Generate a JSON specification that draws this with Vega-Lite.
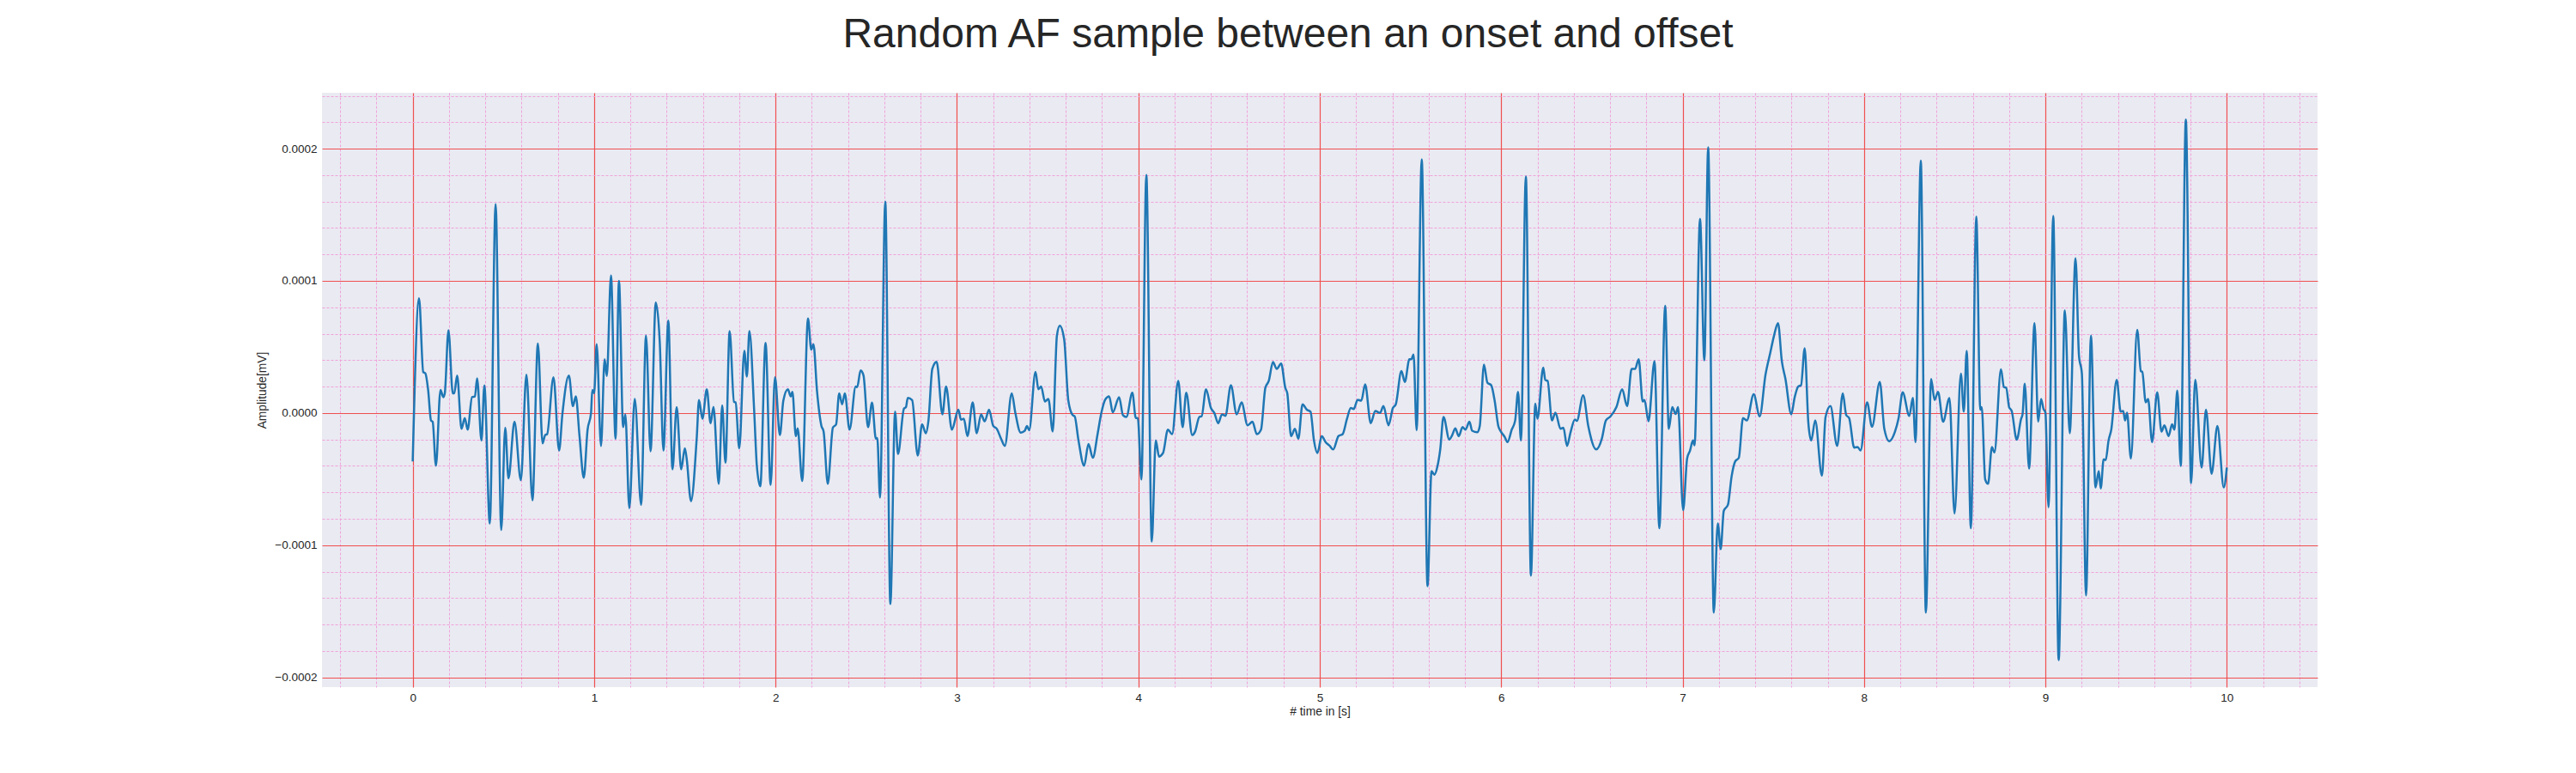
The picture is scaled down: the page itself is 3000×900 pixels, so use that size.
{
  "$schema": "https://vega.github.io/schema/vega-lite/v6.json",
  "autosize": {"type": "none"},
  "width": 2324,
  "height": 692,
  "padding": {"left": 375, "top": 108, "right": 301, "bottom": 100},
  "background": "white",
  "title": {
    "text": "Random AF sample between an onset and offset",
    "font": "Liberation Sans",
    "fontSize": 48,
    "fontWeight": "normal",
    "color": "#262626",
    "anchor": "middle",
    "baseline": "alphabetic",
    "dx": -37,
    "dy": 43,
    "offset": 45
  },
  "config": {
    "view": {"stroke": null, "fill": "#eaeaf2"},
    "axis": {
      "labelFont": "Liberation Sans",
      "titleFont": "Liberation Sans",
      "labelColor": "#262626",
      "titleColor": "#262626",
      "labelFontSize": 13.5,
      "titleFontSize": 13.8,
      "titleFontWeight": "normal",
      "domain": false,
      "ticks": false,
      "tickSize": 0,
      "gridOpacity": 1,
      "labelOverlap": false,
      "labelFlush": false
    }
  },
  "data": {
    "values": [
      {"t":0.000,"a":-3.66e-5},{"t":0.035,"a":8.69e-5},{"t":0.058,"a":3.1e-5},{"t":0.070,"a":3.0e-5},{"t":0.085,"a":1.75e-5},
      {"t":0.101,"a":-0.57e-5},{"t":0.110,"a":-0.66e-5},{"t":0.128,"a":-3.99e-5},{"t":0.153,"a":1.75e-5},{"t":0.169,"a":1.2e-5},
      {"t":0.177,"a":1.5e-5},{"t":0.197,"a":6.26e-5},{"t":0.221,"a":1.48e-5},{"t":0.229,"a":1.5e-5},{"t":0.245,"a":2.84e-5},
      {"t":0.269,"a":-1.2e-5},{"t":0.287,"a":-0.38e-5},{"t":0.303,"a":-1.26e-5},{"t":0.327,"a":1.2e-5},{"t":0.343,"a":1.25e-5},
      {"t":0.355,"a":2.62e-5},{"t":0.379,"a":-2.08e-5},{"t":0.395,"a":2.08e-5},{"t":0.425,"a":-8.36e-5},{"t":0.457,"a":15.8e-5},
      {"t":0.488,"a":-8.85e-5},{"t":0.510,"a":-1.12e-5},{"t":0.528,"a":-4.95e-5},{"t":0.561,"a":-0.66e-5},{"t":0.596,"a":-5.08e-5},
      {"t":0.627,"a":2.9e-5},{"t":0.660,"a":-6.6e-5},{"t":0.690,"a":5.25e-5},{"t":0.716,"a":-2.3e-5},{"t":0.730,"a":-1.67e-5},
      {"t":0.741,"a":-1.6e-5},{"t":0.776,"a":2.7e-5},{"t":0.807,"a":-2.84e-5},{"t":0.825,"a":-0.1e-5},{"t":0.861,"a":2.84e-5},
      {"t":0.883,"a":0.52e-5},{"t":0.899,"a":1.26e-5},{"t":0.919,"a":-1.67e-5},{"t":0.943,"a":-4.9e-5},{"t":0.964,"a":-1.26e-5},
      {"t":0.983,"a":0.0},{"t":0.990,"a":1.75e-5},{"t":1.000,"a":1.5e-5},{"t":1.014,"a":5.2e-5},{"t":1.038,"a":-2.5e-5},
      {"t":1.058,"a":4.07e-5},{"t":1.070,"a":2.8e-5},{"t":1.093,"a":10.4e-5},{"t":1.118,"a":-1.94e-5},{"t":1.137,"a":10.0e-5},
      {"t":1.160,"a":-1.07e-5},{"t":1.172,"a":-0.1e-5},{"t":1.194,"a":-7.2e-5},{"t":1.224,"a":1.07e-5},{"t":1.259,"a":-6.94e-5},
      {"t":1.286,"a":5.85e-5},{"t":1.311,"a":-2.9e-5},{"t":1.340,"a":8.36e-5},{"t":1.362,"a":5.3e-5},{"t":1.382,"a":-2.84e-5},
      {"t":1.409,"a":7.0e-5},{"t":1.432,"a":-4.26e-5},{"t":1.455,"a":0.44e-5},{"t":1.480,"a":-4.26e-5},{"t":1.500,"a":-2.68e-5},
      {"t":1.510,"a":-3.44e-5},{"t":1.534,"a":-6.67e-5},{"t":1.566,"a":-1.8e-5},{"t":1.578,"a":0.98e-5},{"t":1.597,"a":-0.44e-5},
      {"t":1.621,"a":1.8e-5},{"t":1.642,"a":-0.77e-5},{"t":1.658,"a":0.46e-5},{"t":1.687,"a":-5.36e-5},{"t":1.706,"a":0.57e-5},
      {"t":1.724,"a":-3.77e-5},{"t":1.747,"a":6.2e-5},{"t":1.771,"a":0.85e-5},{"t":1.780,"a":0.8e-5},{"t":1.800,"a":-2.68e-5},
      {"t":1.828,"a":4.7e-5},{"t":1.842,"a":2.76e-5},{"t":1.856,"a":6.2e-5},{"t":1.882,"a":0.25e-5},{"t":1.897,"a":-4.0e-5},
      {"t":1.916,"a":-5.55e-5},{"t":1.945,"a":5.3e-5},{"t":1.973,"a":-5.44e-5},{"t":1.997,"a":2.7e-5},{"t":2.024,"a":-1.67e-5},
      {"t":2.043,"a":0.93e-5},{"t":2.068,"a":1.8e-5},{"t":2.084,"a":1.26e-5},{"t":2.093,"a":1.6e-5},{"t":2.112,"a":-1.75e-5},
      {"t":2.122,"a":-1.17e-5},{"t":2.147,"a":-5.14e-5},{"t":2.179,"a":7.16e-5},{"t":2.197,"a":4.8e-5},{"t":2.209,"a":5.2e-5},
      {"t":2.229,"a":1.6e-5},{"t":2.253,"a":-0.98e-5},{"t":2.265,"a":-1.4e-5},{"t":2.288,"a":-5.36e-5},{"t":2.316,"a":-1.12e-5},
      {"t":2.334,"a":-0.85e-5},{"t":2.351,"a":1.48e-5},{"t":2.367,"a":0.66e-5},{"t":2.382,"a":1.48e-5},{"t":2.408,"a":-1.26e-5},
      {"t":2.442,"a":2.0e-5},{"t":2.450,"a":1.95e-5},{"t":2.469,"a":3.22e-5},{"t":2.485,"a":2.84e-5},{"t":2.510,"a":-1.07e-5},
      {"t":2.532,"a":0.79e-5},{"t":2.553,"a":-1.94e-5},{"t":2.561,"a":-1.9e-5},{"t":2.576,"a":-6.4e-5},{"t":2.605,"a":16.0e-5},
      {"t":2.633,"a":-14.45e-5},{"t":2.659,"a":0.1e-5},{"t":2.675,"a":-3.1e-5},{"t":2.708,"a":0.33e-5},{"t":2.719,"a":0.44e-5},
      {"t":2.729,"a":1.15e-5},{"t":2.753,"a":0.98e-5},{"t":2.784,"a":-3.22e-5},{"t":2.808,"a":-0.85e-5},{"t":2.828,"a":-1.53e-5},
      {"t":2.843,"a":-0.57e-5},{"t":2.864,"a":3.33e-5},{"t":2.888,"a":3.88e-5},{"t":2.920,"a":-0.1e-5},{"t":2.940,"a":2.0e-5},
      {"t":2.972,"a":-1.26e-5},{"t":3.008,"a":0.25e-5},{"t":3.022,"a":-0.5e-5},{"t":3.038,"a":-0.44e-5},{"t":3.058,"a":-1.75e-5},
      {"t":3.087,"a":0.8e-5},{"t":3.109,"a":-1.53e-5},{"t":3.133,"a":-0.1e-5},{"t":3.153,"a":-0.63e-5},{"t":3.177,"a":0.25e-5},
      {"t":3.200,"a":-0.98e-5},{"t":3.220,"a":-1.2e-5},{"t":3.243,"a":-1.94e-5},{"t":3.264,"a":-2.49e-5},{"t":3.302,"a":1.48e-5},
      {"t":3.322,"a":0.0},{"t":3.351,"a":-1.48e-5},{"t":3.374,"a":-1.34e-5},{"t":3.386,"a":-0.98e-5},{"t":3.398,"a":-1.31e-5},
      {"t":3.433,"a":3.11e-5},{"t":3.449,"a":1.8e-5},{"t":3.464,"a":2.0e-5},{"t":3.485,"a":0.87e-5},{"t":3.504,"a":1.07e-5},
      {"t":3.528,"a":-1.4e-5},{"t":3.551,"a":5.85e-5},{"t":3.567,"a":6.6e-5},{"t":3.591,"a":5.57e-5},{"t":3.614,"a":0.93e-5},
      {"t":3.638,"a":-0.16e-5},{"t":3.649,"a":-0.25e-5},{"t":3.670,"a":-2.08e-5},{"t":3.701,"a":-3.99e-5},{"t":3.725,"a":-2.35e-5},
      {"t":3.749,"a":-3.39e-5},{"t":3.776,"a":-1.53e-5},{"t":3.796,"a":0.0},{"t":3.817,"a":1.0e-5},{"t":3.839,"a":1.26e-5},
      {"t":3.859,"a":0.05e-5},{"t":3.894,"a":1.2e-5},{"t":3.915,"a":-0.16e-5},{"t":3.934,"a":-0.3e-5},{"t":3.967,"a":1.53e-5},
      {"t":3.986,"a":-0.38e-5},{"t":3.997,"a":-0.38e-5},{"t":4.017,"a":-5.03e-5},{"t":4.044,"a":18.0e-5},{"t":4.074,"a":-9.73e-5},
      {"t":4.096,"a":-2.08e-5},{"t":4.114,"a":-3.3e-5},{"t":4.136,"a":-3.03e-5},{"t":4.163,"a":-1.26e-5},{"t":4.186,"a":-1.6e-5},
      {"t":4.220,"a":2.43e-5},{"t":4.244,"a":-1.07e-5},{"t":4.264,"a":1.53e-5},{"t":4.297,"a":-1.67e-5},{"t":4.313,"a":-1.4e-5},
      {"t":4.336,"a":-0.3e-5},{"t":4.349,"a":-0.25e-5},{"t":4.373,"a":1.8e-5},{"t":4.400,"a":0.38e-5},{"t":4.419,"a":0.0},
      {"t":4.440,"a":-0.77e-5},{"t":4.461,"a":-0.1e-5},{"t":4.480,"a":-0.22e-5},{"t":4.510,"a":2.1e-5},{"t":4.542,"a":-0.1e-5},
      {"t":4.569,"a":0.8e-5},{"t":4.602,"a":-0.93e-5},{"t":4.629,"a":-0.66e-5},{"t":4.653,"a":-1.6e-5},{"t":4.676,"a":-1.26e-5},
      {"t":4.700,"a":1.9e-5},{"t":4.719,"a":2.43e-5},{"t":4.742,"a":3.85e-5},{"t":4.763,"a":3.33e-5},{"t":4.787,"a":3.74e-5},
      {"t":4.810,"a":1.9e-5},{"t":4.821,"a":1.48e-5},{"t":4.842,"a":-1.75e-5},{"t":4.863,"a":-1.2e-5},{"t":4.882,"a":-1.94e-5},
      {"t":4.905,"a":0.66e-5},{"t":4.929,"a":0.25e-5},{"t":4.949,"a":0.1e-5},{"t":4.968,"a":-2.08e-5},{"t":4.987,"a":-3.03e-5},
      {"t":5.011,"a":-1.75e-5},{"t":5.032,"a":-2.2e-5},{"t":5.055,"a":-2.49e-5},{"t":5.074,"a":-2.76e-5},{"t":5.103,"a":-1.75e-5},
      {"t":5.126,"a":-1.6e-5},{"t":5.150,"a":-0.44e-5},{"t":5.171,"a":0.38e-5},{"t":5.187,"a":0.3e-5},{"t":5.209,"a":1.0e-5},
      {"t":5.229,"a":0.93e-5},{"t":5.250,"a":2.16e-5},{"t":5.281,"a":-0.77e-5},{"t":5.306,"a":0.16e-5},{"t":5.332,"a":0.0},
      {"t":5.351,"a":0.52e-5},{"t":5.379,"a":-0.93e-5},{"t":5.403,"a":0.38e-5},{"t":5.419,"a":0.66e-5},{"t":5.450,"a":3.17e-5},
      {"t":5.469,"a":2.35e-5},{"t":5.494,"a":4.07e-5},{"t":5.505,"a":4.07e-5},{"t":5.517,"a":4.43e-5},{"t":5.534,"a":-1.31e-5},
      {"t":5.562,"a":19.2e-5},{"t":5.594,"a":-13.1e-5},{"t":5.616,"a":-4.4e-5},{"t":5.632,"a":-4.67e-5},{"t":5.648,"a":-4.07e-5},
      {"t":5.664,"a":-2.76e-5},{"t":5.682,"a":-0.3e-5},{"t":5.714,"a":-2.0e-5},{"t":5.730,"a":-1.67e-5},{"t":5.747,"a":-1.17e-5},
      {"t":5.766,"a":-1.75e-5},{"t":5.787,"a":-1.07e-5},{"t":5.803,"a":-1.26e-5},{"t":5.825,"a":-0.66e-5},{"t":5.840,"a":-1.34e-5},
      {"t":5.869,"a":-1.45e-5},{"t":5.882,"a":-0.98e-5},{"t":5.905,"a":3.66e-5},{"t":5.924,"a":2.3e-5},{"t":5.945,"a":2.1e-5},
      {"t":5.964,"a":0.93e-5},{"t":5.984,"a":-0.98e-5},{"t":5.998,"a":-1.4e-5},{"t":6.019,"a":-1.8e-5},{"t":6.035,"a":-2.2e-5},
      {"t":6.058,"a":-1.26e-5},{"t":6.077,"a":-0.57e-5},{"t":6.093,"a":1.6e-5},{"t":6.109,"a":-2.08e-5},{"t":6.136,"a":17.9e-5},
      {"t":6.164,"a":-12.3e-5},{"t":6.188,"a":0.71e-5},{"t":6.200,"a":-0.44e-5},{"t":6.232,"a":3.44e-5},{"t":6.243,"a":2.5e-5},
      {"t":6.256,"a":2.43e-5},{"t":6.280,"a":-0.57e-5},{"t":6.299,"a":0.03e-5},{"t":6.327,"a":-1.2e-5},{"t":6.343,"a":-1.12e-5},
      {"t":6.363,"a":-2.49e-5},{"t":6.382,"a":-1.48e-5},{"t":6.406,"a":-0.49e-5},{"t":6.417,"a":-0.6e-5},{"t":6.452,"a":1.34e-5},
      {"t":6.480,"a":-0.98e-5},{"t":6.524,"a":-2.76e-5},{"t":6.555,"a":-1.94e-5},{"t":6.577,"a":-0.57e-5},{"t":6.603,"a":-0.25e-5},
      {"t":6.635,"a":0.44e-5},{"t":6.667,"a":1.8e-5},{"t":6.694,"a":0.52e-5},{"t":6.719,"a":3.33e-5},{"t":6.738,"a":3.33e-5},
      {"t":6.758,"a":4.07e-5},{"t":6.780,"a":0.87e-5},{"t":6.790,"a":0.98e-5},{"t":6.812,"a":-0.63e-5},{"t":6.845,"a":3.93e-5},
      {"t":6.872,"a":-8.72e-5},{"t":6.904,"a":8.11e-5},{"t":6.924,"a":-1.2e-5},{"t":6.943,"a":0.44e-5},{"t":6.962,"a":-0.08e-5},
      {"t":6.975,"a":0.44e-5},{"t":7.003,"a":-7.35e-5},{"t":7.025,"a":-3.44e-5},{"t":7.041,"a":-2.84e-5},{"t":7.057,"a":-2.08e-5},
      {"t":7.066,"a":-2.45e-5},{"t":7.096,"a":14.7e-5},{"t":7.120,"a":3.99e-5},{"t":7.141,"a":20.1e-5},{"t":7.172,"a":-15.1e-5},
      {"t":7.194,"a":-8.36e-5},{"t":7.210,"a":-10.3e-5},{"t":7.227,"a":-7.4e-5},{"t":7.250,"a":-6.94e-5},{"t":7.270,"a":-4.81e-5},
      {"t":7.290,"a":-3.66e-5},{"t":7.310,"a":-3.39e-5},{"t":7.333,"a":-0.38e-5},{"t":7.354,"a":-0.57e-5},{"t":7.392,"a":1.42e-5},
      {"t":7.425,"a":-0.25e-5},{"t":7.457,"a":2.9e-5},{"t":7.483,"a":4.54e-5},{"t":7.504,"a":5.85e-5},{"t":7.526,"a":6.8e-5},
      {"t":7.547,"a":3.93e-5},{"t":7.567,"a":2.57e-5},{"t":7.599,"a":-0.1e-5},{"t":7.618,"a":1.2e-5},{"t":7.637,"a":2.0e-5},
      {"t":7.653,"a":2.1e-5},{"t":7.673,"a":4.9e-5},{"t":7.693,"a":-0.71e-5},{"t":7.709,"a":-2.08e-5},{"t":7.731,"a":-0.57e-5},
      {"t":7.768,"a":-4.75e-5},{"t":7.788,"a":-0.3e-5},{"t":7.815,"a":0.52e-5},{"t":7.852,"a":-2.49e-5},{"t":7.883,"a":1.48e-5},
      {"t":7.902,"a":-0.16e-5},{"t":7.918,"a":-0.38e-5},{"t":7.946,"a":-2.62e-5},{"t":7.965,"a":-2.57e-5},{"t":7.981,"a":-2.84e-5},
      {"t":8.017,"a":0.8e-5},{"t":8.044,"a":-1.04e-5},{"t":8.087,"a":2.35e-5},{"t":8.112,"a":-1.2e-5},{"t":8.139,"a":-2.13e-5},
      {"t":8.171,"a":-1.4e-5},{"t":8.190,"a":-0.44e-5},{"t":8.213,"a":1.56e-5},{"t":8.250,"a":-0.22e-5},{"t":8.269,"a":1.15e-5},
      {"t":8.284,"a":-2.2e-5},{"t":8.313,"a":19.1e-5},{"t":8.341,"a":-15.1e-5},{"t":8.370,"a":2.57e-5},{"t":8.389,"a":0.98e-5},
      {"t":8.408,"a":1.6e-5},{"t":8.436,"a":-0.66e-5},{"t":8.471,"a":1.12e-5},{"t":8.499,"a":-7.6e-5},{"t":8.534,"a":2.98e-5},
      {"t":8.550,"a":0.1e-5},{"t":8.566,"a":4.7e-5},{"t":8.589,"a":-8.72e-5},{"t":8.619,"a":14.86e-5},{"t":8.641,"a":0.25e-5},
      {"t":8.649,"a":0.44e-5},{"t":8.668,"a":-5.03e-5},{"t":8.684,"a":-5.36e-5},{"t":8.705,"a":-2.57e-5},{"t":8.719,"a":-2.98e-5},
      {"t":8.755,"a":3.3e-5},{"t":8.771,"a":1.97e-5},{"t":8.784,"a":1.9e-5},{"t":8.800,"a":0.44e-5},{"t":8.814,"a":0.16e-5},
      {"t":8.842,"a":-2.02e-5},{"t":8.866,"a":-0.44e-5},{"t":8.874,"a":-0.1e-5},{"t":8.886,"a":2.21e-5},{"t":8.910,"a":-4.2e-5},
      {"t":8.940,"a":6.8e-5},{"t":8.960,"a":-0.66e-5},{"t":8.976,"a":1.07e-5},{"t":8.989,"a":0.33e-5},{"t":9.000,"a":0.03e-5},
      {"t":9.017,"a":-7.13e-5},{"t":9.043,"a":14.9e-5},{"t":9.073,"a":-18.7e-5},{"t":9.107,"a":7.76e-5},{"t":9.134,"a":-1.53e-5},
      {"t":9.166,"a":11.7e-5},{"t":9.185,"a":4.34e-5},{"t":9.201,"a":2.98e-5},{"t":9.224,"a":-13.8e-5},{"t":9.251,"a":5.85e-5},
      {"t":9.276,"a":-5.63e-5},{"t":9.294,"a":-4.4e-5},{"t":9.305,"a":-5.71e-5},{"t":9.321,"a":-3.5e-5},{"t":9.332,"a":-3.57e-5},
      {"t":9.348,"a":-2.08e-5},{"t":9.363,"a":-1.26e-5},{"t":9.393,"a":2.51e-5},{"t":9.415,"a":0.1e-5},{"t":9.429,"a":0.16e-5},
      {"t":9.439,"a":-0.57e-5},{"t":9.450,"a":0.03e-5},{"t":9.471,"a":-3.44e-5},{"t":9.506,"a":6.3e-5},{"t":9.526,"a":3.17e-5},
      {"t":9.534,"a":3.11e-5},{"t":9.553,"a":0.8e-5},{"t":9.566,"a":1.07e-5},{"t":9.588,"a":-2.2e-5},{"t":9.616,"a":1.56e-5},
      {"t":9.640,"a":-1.4e-5},{"t":9.656,"a":-0.93e-5},{"t":9.679,"a":-1.75e-5},{"t":9.698,"a":-0.85e-5},{"t":9.711,"a":-1.26e-5},
      {"t":9.727,"a":1.69e-5},{"t":9.746,"a":-4.0e-5},{"t":9.774,"a":22.2e-5},{"t":9.803,"a":-5.3e-5},{"t":9.826,"a":2.51e-5},
      {"t":9.861,"a":-4.13e-5},{"t":9.885,"a":0.25e-5},{"t":9.916,"a":-4.6e-5},{"t":9.948,"a":-0.98e-5},{"t":9.983,"a":-5.63e-5},
      {"t":10.000,"a":-4.13e-5}
    ]
  },
  "mark": {"type": "line", "color": "#1f77b4", "strokeWidth": 2.5, "interpolate": "monotone", "clip": true},
  "encoding": {
    "x": {
      "field": "t",
      "type": "quantitative",
      "scale": {"domain": [-0.5, 10.5], "nice": false, "zero": false},
      "axis": {
        "title": "# time in [s]",
        "values": [-0.4,-0.2,0,0.2,0.4,0.6,0.8,1,1.2,1.4,1.6,1.8,2,2.2,2.4,2.6,2.8,3,3.2,3.4,3.6,3.8,4,4.2,4.4,4.6,4.8,5,5.2,5.4,5.6,5.8,6,6.2,6.4,6.6,6.8,7,7.2,7.4,7.6,7.8,8,8.2,8.4,8.6,8.8,9,9.2,9.4,9.6,9.8,10,10.2,10.4],
        "labelExpr": "abs(datum.value - round(datum.value)) < 0.001 ? format(datum.value, 'd') : ''",
        "labelPadding": 5,
        "titlePadding": 3,
        "grid": true,
        "gridColor": {"condition": {"test": "abs(datum.value - round(datum.value)) < 0.001", "value": "#f04f4f"}, "value": "#f0a3da"},
        "gridDash": {"condition": {"test": "abs(datum.value - round(datum.value)) < 0.001", "value": []}, "value": [3, 2]},
        "gridWidth": {"condition": {"test": "abs(datum.value - round(datum.value)) < 0.001", "value": 1.2}, "value": 1}
      }
    },
    "y": {
      "field": "a",
      "type": "quantitative",
      "scale": {"domain": [-0.0002074, 0.0002423], "nice": false, "zero": false},
      "axis": {
        "title": "Amplitude[mV]",
        "values": [-0.0002,-0.00018,-0.00016,-0.00014,-0.00012,-0.0001,-0.00008,-0.00006,-0.00004,-0.00002,0,0.00002,0.00004,0.00006,0.00008,0.0001,0.00012,0.00014,0.00016,0.00018,0.0002,0.00022,0.00024],
        "labelExpr": "abs(datum.value * 10000 - round(datum.value * 10000)) < 0.001 ? format(datum.value, '.4f') : ''",
        "labelPadding": 6,
        "titlePadding": 7,
        "grid": true,
        "gridColor": {"condition": {"test": "abs(datum.value * 10000 - round(datum.value * 10000)) < 0.001", "value": "#f04f4f"}, "value": "#f0a3da"},
        "gridDash": {"condition": {"test": "abs(datum.value * 10000 - round(datum.value * 10000)) < 0.001", "value": []}, "value": [3, 2]},
        "gridWidth": {"condition": {"test": "abs(datum.value * 10000 - round(datum.value * 10000)) < 0.001", "value": 1.2}, "value": 1}
      }
    }
  }
}
